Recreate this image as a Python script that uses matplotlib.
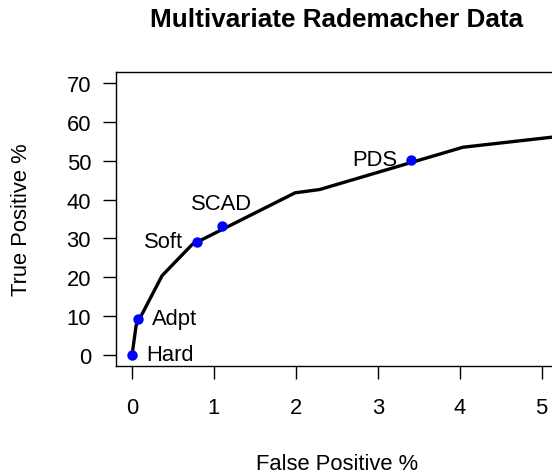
import matplotlib
matplotlib.use("Agg")
import matplotlib.pyplot as plt

plt.rcParams["font.family"] = ["Liberation Sans", "DejaVu Sans"]

# ROC-type curve
fp = [0, 0.049, 0.366, 0.732, 1.99, 2.29, 4.04, 5.3]
tp = [0, 7.55, 20.4, 28.4, 41.75, 42.6, 53.5, 56.5]

# labelled methods
methods = ["Hard", "Adpt", "Soft", "SCAD", "PDS"]
method_fp = [0, 0.068, 0.796, 1.093, 3.41]
method_tp = [0, 9.3, 29.2, 33.2, 50.26]
label_pos = ["right", "right", "left", "top", "left"]

fig = plt.figure(figsize=(5.52, 4.77), dpi=100)
ax = fig.add_axes([0.2096, 0.2312, 0.8013, 0.6151])

ax.plot(fp, tp, color="black", lw=2.4, solid_joinstyle="round")
ax.plot(method_fp, method_tp, "o", color="blue", ms=7.5, mec="none")

offsets = {"right": ((10, 0), "left", "center"),
           "left": ((-10, 0), "right", "center"),
           "top": ((0, 9), "center", "bottom")}
for name, x, y, p in zip(methods, method_fp, method_tp, label_pos):
    off, ha, va = offsets[p]
    ax.annotate(name, (x, y), xytext=off, textcoords="offset points",
                ha=ha, va=va, fontsize=15.8)

ax.set_xlim(-0.2, 5.2)
ax.set_ylim(-2.8, 72.8)
ax.set_xticks(range(0, 6))
ax.set_yticks(range(0, 80, 10))
ax.tick_params(labelsize=15.8, length=9.7, width=1)
ax.tick_params(axis="x", pad=13)
ax.tick_params(axis="y", pad=8)
for s in ax.spines.values():
    s.set_linewidth(1)

ax.set_xlabel("False Positive %", fontsize=15.8, labelpad=25)
ax.set_ylabel("True Positive %", fontsize=15.8, labelpad=25)
ax.set_title("Multivariate Rademacher Data", fontsize=18.8,
             fontweight="bold", pad=33)

fig.savefig("out.png", dpi=100)
plt.close()
